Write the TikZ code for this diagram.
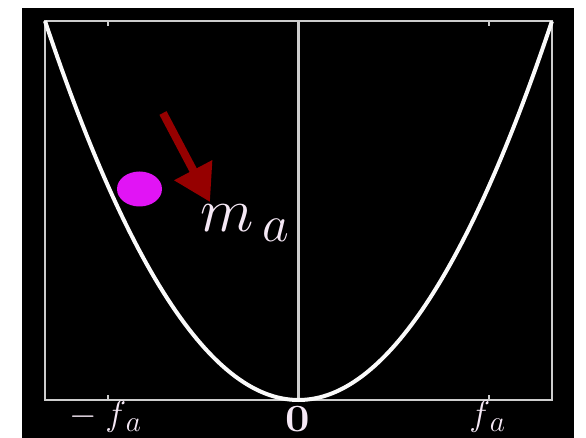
\documentclass[tikz,border=0pt]{standalone}
\usepackage{graphicx}
\usetikzlibrary{arrows.meta,shapes.geometric}
\definecolor{PotWhite}{RGB}{250,250,250}
\definecolor{PotGray}{RGB}{205,205,205}
\definecolor{PotRed}{RGB}{150,0,0}
\definecolor{PotMagenta}{RGB}{225,20,245}
\definecolor{PotText}{RGB}{245,232,245}
\newcommand{\potbig}[2]{\scalebox{#1}{\Huge #2}}
\tikzset{
  pot/frame/.style={draw=PotGray, line width=2pt},
  pot/curve/.style={draw=PotWhite, line width=4pt, line join=round},
  pot/axis/.style={draw=PotGray, line width=2.2pt},
  pot/tick/.style={draw=PotGray, line width=1.5pt},
  pot/ball/.style={ellipse, fill=PotMagenta, minimum width=45pt, minimum height=35pt, inner sep=0pt},
  pot/arrow/.style={-{Triangle[length=36pt,width=41pt]}, line width=8pt, draw=PotRed},
  pot/label/.style={text=PotText, inner sep=0pt}
}

\begin{document}
\begin{tikzpicture}[x=1pt,y=-1pt]
  \useasboundingbox[fill=white] (0,0) rectangle (586,438);
  \fill[black] (22,8) rectangle (574,438);
  % frame and ticks
  \draw[pot/frame] (45,21) rectangle (552,400);
  \foreach \x in {108,489}{
    \draw[pot/tick] (\x,21) -- (\x,26);
    \draw[pot/tick] (\x,400) -- (\x,395);
  }
  \draw[pot/axis] (298.5,21) -- (298.5,400);
  % potential
  \draw[pot/curve] plot[domain=-1:1,samples=121] ({298.5+253.5*\x},{400-379*(\x)*(\x)});
  \node[pot/ball] (ball) at (139.5,189) {};
  \coordinate (push) at (163,113);
  \coordinate (hit) at (210,202);
  \draw[pot/arrow] (push) -- (hit);
  \node[pot/label, anchor=base west] (mass) at (200,232) {\potbig{2.5}{$m_{\kern3.5pt a}$}};
  % axis labels
  \node[pot/label, anchor=north] (neg) at (105.5,401) {\potbig{1.42}{$-\kern6pt f_{\kern2.5pt a}$}};
  \node[pot/label, anchor=north] (zero) at (298,406) {\scalebox{1.75}[1.55]{\Huge\bfseries 0}};
  \node[pot/label, anchor=north] (pos) at (487.5,401) {\potbig{1.42}{$f_{\kern2.5pt a}$}};
\end{tikzpicture}
\end{document}
